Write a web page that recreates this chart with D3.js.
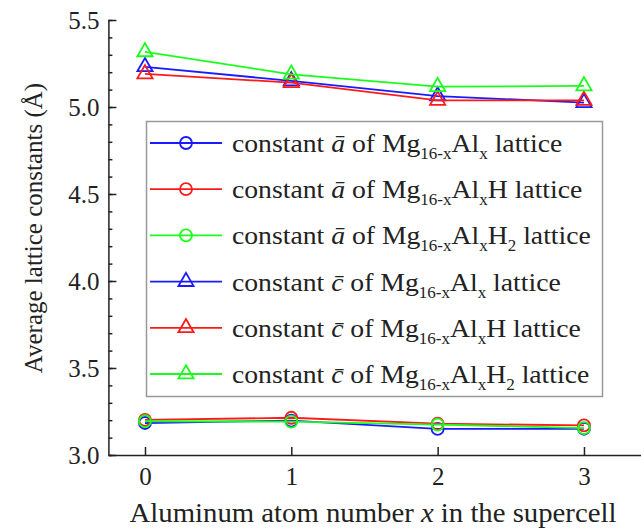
<!DOCTYPE html>
<html>
<head>
<meta charset="utf-8">
<script src="https://cdn.jsdelivr.net/npm/d3@7"></script>
<style>
body { margin: 0; background: #fff; }
text { font-family: "Liberation Serif", serif; fill: #222; }
</style>
</head>
<body>
<div id="chart"></div>
<script>
// values
var atomNumbers = [0, 1, 2, 3];
var aMgAl   = [3.184, 3.198, 3.150, 3.151];
var aMgAlH  = [3.202, 3.214, 3.180, 3.170];
var aMgAlH2 = [3.194, 3.192, 3.175, 3.155];
var cMgAl   = [5.231, 5.150, 5.063, 5.025];
var cMgAlH  = [5.190, 5.140, 5.038, 5.038];
var cMgAlH2 = [5.317, 5.188, 5.117, 5.121];
var yTicks = [3.0, 3.5, 4.0, 4.5, 5.0, 5.5];
var xTicks = [0, 1, 2, 3];

var series = [
    {constant: "\u0101",  hydro: "",   values: aMgAl,   color: "#1a1aff", marker: "circle"},
    {constant: "\u0101",  hydro: "H",  values: aMgAlH,  color: "#ff1a1a", marker: "circle"},
    {constant: "\u0101",  hydro: "H2", values: aMgAlH2, color: "#1aff1a", marker: "circle"},
    {constant: "c\u0304", hydro: "",   values: cMgAl,   color: "#1a1aff", marker: "triangle"},
    {constant: "c\u0304", hydro: "H",  values: cMgAlH,  color: "#ff1a1a", marker: "triangle"},
    {constant: "c\u0304", hydro: "H2", values: cMgAlH2, color: "#1aff1a", marker: "triangle"}
];

var width = 641, height = 531;
var stretch = 1.065; // the original serif runs a bit wider than Liberation Serif

var svg = d3.select("#chart").append("svg")
    .attr("width", width)
    .attr("height", height);

var xScale = d3.scaleLinear()
    .domain([-0.25, 3.4])
    .range([108.4, 642.5]);

var yScale = d3.scaleLinear()
    .domain([3, 5.5])
    .range([455, 20]);

// axes, ticks point inward
var yMinor = d3.range(3, 5.501, 0.1);
svg.append("g")
    .attr("transform", `translate(${xScale(-0.25)},0)`)
    .call(d3.axisLeft(yScale).tickValues(yMinor).tickSize(-4).tickSizeOuter(0).tickFormat(""))
    .call(g => g.select(".domain").remove());

svg.append("g")
    .attr("transform", `translate(${xScale(-0.25)},0)`)
    .call(d3.axisLeft(yScale).tickValues(yTicks).tickSize(-8).tickSizeOuter(0).tickPadding(9).tickFormat(d3.format(".1f")));

svg.append("g")
    .attr("transform", `translate(0,${yScale(3)})`)
    .call(d3.axisBottom(xScale).tickValues(xTicks).tickSize(-8).tickSizeOuter(0).tickPadding(12).tickFormat(d3.format("d")));

svg.selectAll(".domain, .tick line").attr("stroke", "#222").attr("stroke-width", 1.5);
svg.selectAll(".tick text").attr("font-size", 25).attr("font-family", "Liberation Serif").attr("fill", "#222");

// axis titles
svg.append("text")
    .attr("transform", "translate(42,228) rotate(-90)")
    .attr("text-anchor", "middle")
    .attr("font-size", 25)
    .text("Average lattice constants (Å)");

var xTitle = svg.append("g")
    .attr("transform", `translate(373,522) scale(${stretch},1)`)
    .append("text")
    .attr("text-anchor", "middle")
    .attr("font-size", 27);
xTitle.append("tspan").text("Aluminum atom number ");
xTitle.append("tspan").attr("font-style", "italic").text("x");
xTitle.append("tspan").text(" in the supercell");

// lines and markers
var line = d3.line()
    .x((d, i) => xScale(atomNumbers[i]))
    .y(d => yScale(d));

var triangle = d3.symbol().type(d3.symbolTriangle).size(100);

series.forEach(function(s) {
    svg.append("path")
        .attr("d", line(s.values))
        .attr("fill", "none")
        .attr("stroke", s.color)
        .attr("stroke-width", 1.8);

    var pts = svg.append("g").selectAll("g")
        .data(s.values).enter()
        .append("g")
        .attr("transform", (d, i) => `translate(${xScale(atomNumbers[i])},${yScale(d)})`);

    if (s.marker == "circle") {
        pts.append("circle").attr("r", 6);
    } else {
        pts.append("path").attr("d", triangle);
    }
    pts.selectAll("circle, path")
        .attr("fill", "none")
        .attr("stroke", s.color)
        .attr("stroke-width", 1.8);
});

// legend
var legend = svg.append("g");
legend.append("rect")
    .attr("x", 146.5)
    .attr("y", 121.5)
    .attr("width", 456)
    .attr("height", 275)
    .attr("fill", "#fff")
    .attr("stroke", "#999")
    .attr("stroke-width", 1.5);

var rowY = d3.scaleLinear().domain([0, 5]).range([143, 374]);

series.forEach(function(s, i) {
    var row = legend.append("g").attr("transform", `translate(0,${rowY(i)})`);
    row.append("line")
        .attr("x1", 150).attr("x2", 222)
        .attr("stroke", s.color).attr("stroke-width", 1.8);
    if (s.marker == "circle") {
        row.append("circle").attr("cx", 186).attr("r", 6);
    } else {
        row.append("path").attr("transform", "translate(186,0)").attr("d", triangle);
    }
    row.selectAll("circle, path")
        .attr("fill", "none").attr("stroke", s.color).attr("stroke-width", 1.8);

    var t = row.append("g")
        .attr("transform", `translate(232,9) scale(${stretch},1)`)
        .append("text")
        .attr("font-size", 26);
    t.append("tspan").text("constant ");
    t.append("tspan").attr("font-style", "italic").text(s.constant);
    t.append("tspan").text(" of Mg");
    t.append("tspan").attr("font-size", 16).attr("dy", 7).text("16-x");
    t.append("tspan").attr("dy", -7).text("Al");
    t.append("tspan").attr("font-size", 16).attr("dy", 7).text("x");
    var shift = 7;
    if (s.hydro) {
        t.append("tspan").attr("dy", -7).text("H");
        shift = 0;
        if (s.hydro == "H2") {
            t.append("tspan").attr("font-size", 16).attr("dy", 7).text("2");
            shift = 7;
        }
    }
    t.append("tspan").attr("dy", -shift).text(" lattice");
});
</script>
</body>
</html>
